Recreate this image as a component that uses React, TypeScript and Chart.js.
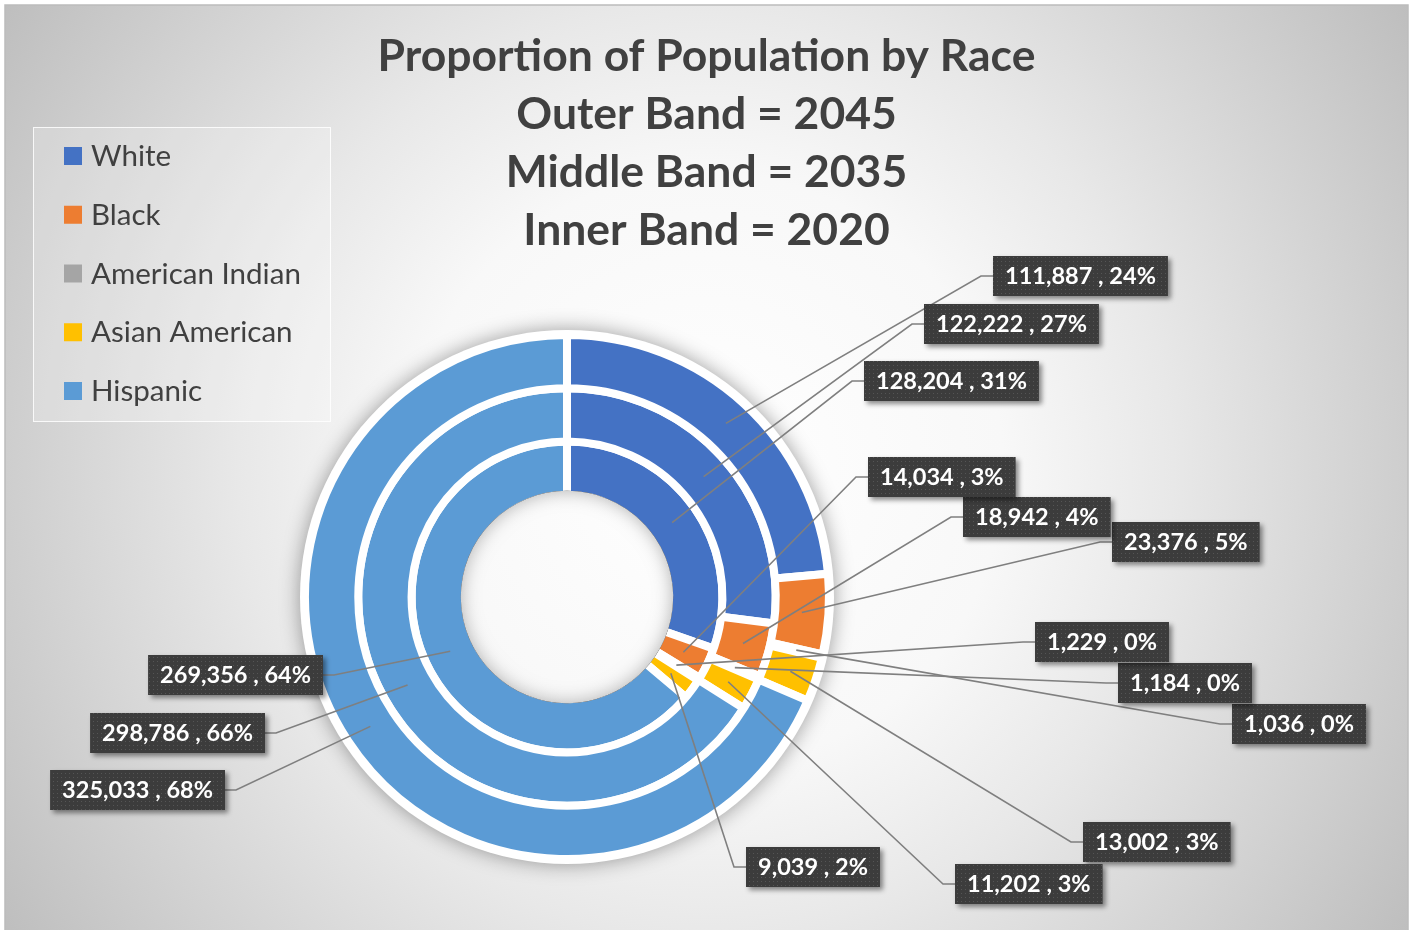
import React, { useEffect, useRef } from 'react';
import { Chart, registerables } from 'chart.js';

Chart.register(...registerables);

// ---- data ----
const categories = ['White', 'Black', 'American Indian', 'Asian American', 'Hispanic'];
const bandYears = ['2045', '2035', '2020']; // outer, middle, inner
const values2045 = [111887, 23376, 1036, 13002, 325033];
const values2035 = [122222, 18942, 1184, 11202, 298786];
const values2020 = [128204, 14034, 1229, 9039, 269356];
const percent2045 = [24, 5, 0, 3, 68];
const percent2035 = [27, 4, 0, 3, 66];
const percent2020 = [31, 3, 0, 2, 64];
const titleLines = [
  'Proportion of Population by Race',
  'Outer Band = 2045',
  'Middle Band = 2035',
  'Inner Band = 2020',
];
const sliceColors = ['#4472C4', '#ED7D31', '#A5A5A5', '#FFC000', '#5B9BD5'];

// ---- label placement (offsets of the label box from the doughnut centre) ----
type Place = { side: 'L' | 'R'; dx: number; dy: number };
const labelPlacement: Place[][] = [
  [
    { side: 'R', dx: 426, dy: -321 },
    { side: 'R', dx: 545, dy: -55 },
    { side: 'R', dx: 665, dy: 127 },
    { side: 'R', dx: 516, dy: 245 },
    { side: 'L', dx: -342, dy: 193 },
  ],
  [
    { side: 'R', dx: 357, dy: -273 },
    { side: 'R', dx: 396, dy: -80 },
    { side: 'R', dx: 551, dy: 86 },
    { side: 'R', dx: 388, dy: 287 },
    { side: 'L', dx: -302, dy: 136 },
  ],
  [
    { side: 'R', dx: 297, dy: -216 },
    { side: 'R', dx: 301, dy: -120 },
    { side: 'R', dx: 468, dy: 45 },
    { side: 'R', dx: 179, dy: 270 },
    { side: 'L', dx: -244, dy: 78 },
  ],
];

const FAMILY = 'Lato, "Open Sans", sans-serif';
const TEXT_DARK = '#404040';
const BORDER_W = 8;

function fitSize(ctx: CanvasRenderingContext2D, text: string, weight: string, target: number) {
  ctx.font = `${weight} 100px ${FAMILY}`;
  const w = ctx.measureText(text).width;
  return (100 * target) / w;
}

function makePattern(ctx: CanvasRenderingContext2D) {
  const c = document.createElement('canvas');
  c.width = 4;
  c.height = 4;
  const p = c.getContext('2d')!;
  p.fillStyle = '#3c3c3c';
  p.fillRect(0, 0, 4, 4);
  p.fillStyle = '#555555';
  p.fillRect(1, 1, 1, 1);
  return ctx.createPattern(c, 'repeat');
}

function bgGradient(ctx: CanvasRenderingContext2D, w: number, h: number) {
  const g = ctx.createRadialGradient(w / 2, h / 2 + 5, 0, w / 2, h / 2 + 5, 850);
  g.addColorStop(0, '#ffffff');
  g.addColorStop(0.35, '#f8f8f8');
  g.addColorStop(0.55, '#e8e8e8');
  g.addColorStop(1, '#bdbdbd');
  return g;
}

const decorPlugin = {
  id: 'decor',
  beforeDraw(chart: any) {
    const ctx: CanvasRenderingContext2D = chart.ctx;
    const w = chart.width;
    const h = chart.height;
    ctx.save();
    ctx.fillStyle = '#ffffff';
    ctx.fillRect(0, 0, w, h);
    ctx.fillStyle = bgGradient(ctx, w, h);
    ctx.fillRect(5, 5, w - 8, h);
    ctx.strokeStyle = '#bcbcbc';
    ctx.lineWidth = 1.5;
    ctx.strokeRect(5, 5, w - 8, h + 10);
    ctx.restore();
  },
  beforeDatasetsDraw(chart: any) {
    const ctx: CanvasRenderingContext2D = chart.ctx;
    const outer = chart.getDatasetMeta(0).data[0];
    if (!outer) return;
    const { x, y, outerRadius } = outer.getProps(['x', 'y', 'outerRadius'], true);
    ctx.save();
    ctx.beginPath();
    ctx.arc(x, y, outerRadius + 5, 0, Math.PI * 2);
    ctx.fillStyle = '#ffffff';
    ctx.shadowColor = 'rgba(0,0,0,0.38)';
    ctx.shadowBlur = 20;
    ctx.fill();
    ctx.restore();
  },
  afterDatasetsDraw(chart: any) {
    // hole: show background with a soft inner shadow
    const ctx: CanvasRenderingContext2D = chart.ctx;
    const inner = chart.getDatasetMeta(2).data[0];
    if (!inner) return;
    const { x, y, innerRadius } = inner.getProps(['x', 'y', 'innerRadius'], true);
    const holeR = innerRadius + BORDER_W / 2;
    ctx.save();
    ctx.beginPath();
    ctx.arc(x, y, holeR, 0, Math.PI * 2);
    ctx.clip();
    ctx.fillStyle = bgGradient(ctx, chart.width, chart.height);
    ctx.fillRect(x - holeR - 2, y - holeR - 2, holeR * 2 + 4, holeR * 2 + 4);
    ctx.beginPath();
    ctx.arc(x, y, holeR + 60, 0, Math.PI * 2);
    ctx.arc(x, y, holeR, 0, Math.PI * 2, true);
    ctx.fillStyle = '#000000';
    ctx.shadowColor = 'rgba(0,0,0,0.30)';
    ctx.shadowBlur = 18;
    ctx.fill();
    ctx.restore();
  },
  afterDraw(chart: any) {
    const ctx: CanvasRenderingContext2D = chart.ctx;
    const w = chart.width;
    const valuesBy = [values2045, values2035, values2020];
    const pctBy = [percent2045, percent2035, percent2020];

    // ---- leader lines + data labels ----
    const labelSize = fitSize(ctx, '111,887 , 24%', 'bold', 151);
    const pattern = makePattern(ctx);
    const boxH = 40;
    const padX = 12;
    type Box = { x: number; y: number; w: number; text: string };
    const boxes: Box[] = [];
    ctx.save();
    ctx.strokeStyle = '#7f7f7f';
    ctx.lineWidth = 1.6;
    for (let d = 0; d < 3; d++) {
      const meta = chart.getDatasetMeta(d);
      meta.data.forEach((arc: any, i: number) => {
        const p = arc.getProps(['x', 'y', 'startAngle', 'endAngle', 'innerRadius', 'outerRadius'], true);
        const mid = (p.startAngle + p.endAngle) / 2;
        const r = (p.innerRadius + p.outerRadius) / 2;
        const ax = p.x + Math.cos(mid) * r;
        const ay = p.y + Math.sin(mid) * r;
        const text = `${valuesBy[d][i].toLocaleString('en-US')} , ${pctBy[d][i]}%`;
        ctx.font = `bold ${labelSize}px ${FAMILY}`;
        const bw = ctx.measureText(text).width + padX * 2;
        const place = labelPlacement[d][i];
        const midY = p.y + place.dy;
        let bx: number;
        let edge: number;
        let elbow: number;
        if (place.side === 'R') {
          bx = p.x + place.dx;
          edge = bx;
          elbow = bx - 12;
        } else {
          bx = p.x + place.dx - bw;
          edge = p.x + place.dx;
          elbow = edge + 11;
        }
        ctx.beginPath();
        ctx.moveTo(ax, ay);
        ctx.lineTo(elbow, midY);
        ctx.lineTo(edge, midY);
        ctx.stroke();
        boxes.push({ x: bx, y: midY - boxH / 2, w: bw, text });
      });
    }
    ctx.restore();

    boxes.forEach((b) => {
      ctx.save();
      ctx.shadowColor = 'rgba(0,0,0,0.45)';
      ctx.shadowOffsetX = 3;
      ctx.shadowOffsetY = 3;
      ctx.shadowBlur = 5;
      ctx.fillStyle = pattern || '#404040';
      ctx.fillRect(b.x, b.y, b.w, boxH);
      ctx.restore();
      ctx.save();
      ctx.fillStyle = '#ffffff';
      ctx.font = `bold ${labelSize}px ${FAMILY}`;
      ctx.textAlign = 'center';
      ctx.textBaseline = 'alphabetic';
      ctx.fillText(b.text, b.x + b.w / 2, b.y + boxH / 2 + labelSize * 0.36);
      ctx.restore();
    });

    // ---- legend ----
    ctx.save();
    ctx.fillStyle = 'rgba(255,255,255,0.22)';
    ctx.fillRect(33.5, 127.5, 297, 294);
    ctx.strokeStyle = 'rgba(255,255,255,0.85)';
    ctx.lineWidth = 1;
    ctx.strokeRect(33.5, 127.5, 297, 294);
    const legendSize = fitSize(ctx, 'American Indian', 'normal', 210);
    ctx.font = `normal ${legendSize}px ${FAMILY}`;
    ctx.textAlign = 'left';
    ctx.textBaseline = 'alphabetic';
    categories.forEach((c, i) => {
      const top = 147 + i * 58.75;
      ctx.fillStyle = sliceColors[i];
      ctx.fillRect(64, top, 18, 18);
      ctx.fillStyle = TEXT_DARK;
      ctx.fillText(c, 91, top + 19);
    });
    ctx.restore();

    // ---- title ----
    ctx.save();
    const titleSize = fitSize(ctx, titleLines[0], 'bold', 658);
    ctx.font = `bold ${titleSize}px ${FAMILY}`;
    ctx.fillStyle = TEXT_DARK;
    ctx.textAlign = 'center';
    ctx.textBaseline = 'alphabetic';
    const baselines = [71, 128.5, 187, 245];
    titleLines.forEach((t, i) => ctx.fillText(t, w / 2 + 1, baselines[i]));
    ctx.restore();
  },
};

export default function App() {
  const canvasRef = useRef<HTMLCanvasElement | null>(null);

  useEffect(() => {
    document.body.style.margin = '0';
    const canvas = canvasRef.current;
    if (!canvas) return;
    const chart = new Chart(canvas, {
      type: 'doughnut',
      data: {
        labels: categories,
        datasets: [values2045, values2035, values2020].map((v, i) => ({
          label: bandYears[i],
          data: v,
          backgroundColor: sliceColors,
          borderColor: '#ffffff',
          borderWidth: BORDER_W,
          hoverBorderWidth: BORDER_W,
          hoverOffset: 0,
        })),
      },
      options: {
        responsive: false,
        animation: false,
        cutout: '39%',
        events: [],
        layout: { padding: { left: 301, top: 331, right: 578, bottom: 67 } },
        plugins: {
          legend: { display: false },
          title: { display: false },
          tooltip: { enabled: false },
        },
      },
      plugins: [decorPlugin],
    });
    return () => chart.destroy();
  }, []);

  return (
    <div style={{ width: 1411, height: 930, overflow: 'hidden' }}>
      <canvas ref={canvasRef} width={1411} height={930} style={{ display: 'block' }} />
    </div>
  );
}
